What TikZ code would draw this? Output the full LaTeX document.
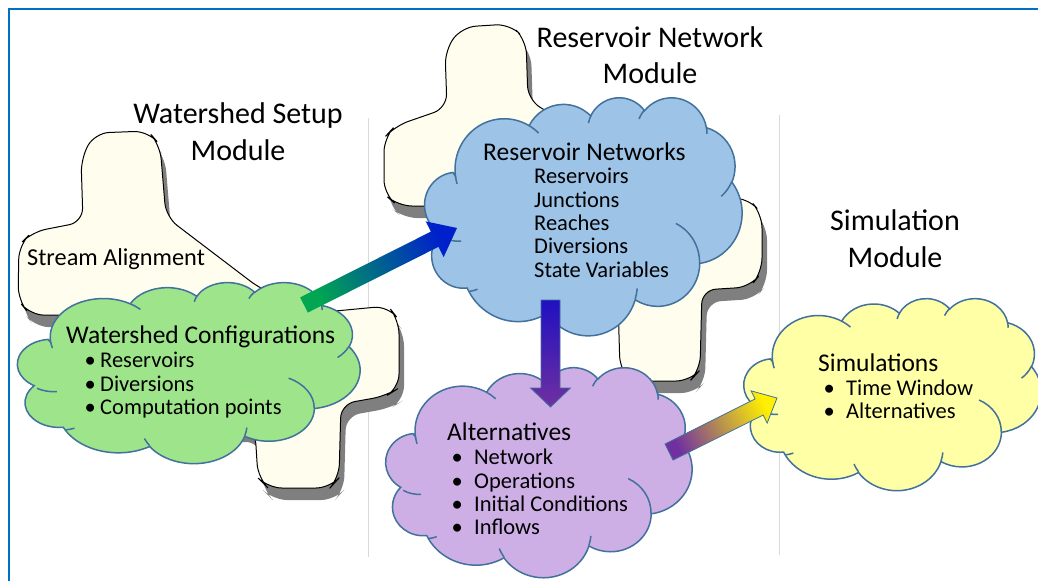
\documentclass[tikz,border=0pt]{standalone}
\usepackage{fontspec}
\setmainfont{Carlito}
\usetikzlibrary{calc}
\definecolor{frameblue}{RGB}{0,112,192}
\definecolor{sepgray}{RGB}{217,217,217}
\definecolor{cream}{RGB}{255,254,238}
\definecolor{shadowgray}{RGB}{127,127,127}
\definecolor{cloudline}{RGB}{65,113,156}
\definecolor{cgreen}{RGB}{158,228,138}
\definecolor{cblue}{RGB}{157,195,230}
\definecolor{cpurple}{RGB}{205,175,230}
\definecolor{cyellow}{RGB}{255,255,166}
\definecolor{agreen}{RGB}{0,166,81}
\definecolor{ablue}{RGB}{0,32,204}
\definecolor{ablue2}{RGB}{32,16,192}
\definecolor{apurple}{RGB}{112,48,160}
\definecolor{ayellow}{RGB}{255,240,0}
% ---------- PowerPoint-like cloud ----------
\newcommand\cldmove[2]{%
 \pgfmathsetmacro\cldpx{\cldX+#1*\cldsx}%
 \pgfmathsetmacro\cldpy{-(\cldY+#2*\cldsy)}%
 \pgfpathmoveto{\pgfpoint{\cldpx pt}{\cldpy pt}}}
\newcommand\cldarc[4]{%
 \pgfmathsetmacro\cldpa{atan2(#1*sin(#3),#2*cos(#3))}%
 \pgfmathsetmacro\cldpb{atan2(#1*sin(#3+#4),#2*cos(#3+#4))}%
 \pgfmathsetmacro\cldd{mod(\cldpb-(\cldpa)+720,360)}%
 \pgfmathsetmacro\cldsa{-1*(\cldpa)}%
 \pgfmathsetmacro\cldea{-1*(\cldpa)-\cldd}%
 \pgfmathsetmacro\cldrx{#1*\cldsx}%
 \pgfmathsetmacro\cldry{#2*\cldsy}%
 \pgfpatharc{\cldsa}{\cldea}{\cldrx pt and \cldry pt}}
\newcommand\pcloud[6]{%
 \begin{pgfscope}
 \def\cldX{#1}\def\cldY{#2}%
 \pgfmathsetmacro\cldsx{#3/432}\pgfmathsetmacro\cldsy{#4/432}%
 \pgfsetfillcolor{#5}\pgfsetstrokecolor{#6}\pgfsetlinewidth{1.5pt}%
 \cldmove{39.00}{143.70}%
 \cldarc{67.53}{91.90}{-190.4875}{123.7805}%
 \cldarc{53.33}{72.67}{-144.1024}{89.9452}%
 \cldarc{43.65}{59.45}{-145.8079}{99.7230}%
 \cldarc{48.57}{65.95}{-130.9861}{117.2417}%
 \cldarc{53.33}{72.73}{-78.7089}{109.0269}%
 \cldarc{67.75}{92.20}{-46.2673}{130.2690}%
 \cldarc{57.85}{78.67}{0.6250}{114.0333}%
 \cldarc{67.52}{92.15}{22.4516}{115.1726}%
 \cldarc{77.20}{105.43}{66.2426}{81.3750}%
 \cldarc{43.60}{59.18}{-274.9421}{146.7356}%
 \cldarc{43.45}{59.45}{-246.8285}{152.5189}%
 \pgfpathclose
 \pgfusepath{fill,stroke}%
 \cldmove{46.93}{261.77}\cldarc{43.45}{59.45}{86.7420}{26.4295}%
 \cldmove{69.28}{348.99}\cldarc{43.60}{59.18}{73.6105}{11.4475}%
 \cldmove{164.78}{390.90}\cldarc{67.52}{92.15}{137.6242}{14.0811}%
 \cldmove{288.27}{347.51}\cldarc{67.52}{92.15}{6.4533}{15.9984}%
 \cldmove{341.29}{229.54}\cldarc{57.85}{78.67}{-70.2924}{70.9174}%
 \cldmove{417.98}{153.54}\cldarc{53.33}{72.73}{30.3180}{27.7515}%
 \cldmove{383.24}{54.26}\cldarc{48.57}{65.95}{-13.7443}{14.8589}%
 \cldmove{290.78}{39.52}\cldarc{48.57}{65.95}{-149.1815}{18.1954}%
 \cldmove{221.41}{47.20}\cldarc{43.65}{59.45}{-163.4943}{17.6864}%
 \cldmove{140.00}{51.92}\cldarc{67.53}{91.90}{-66.7070}{12.3194}%
 \cldmove{41.27}{157.89}\cldarc{67.53}{91.90}{157.6544}{11.8582}%
 \pgfusepath{stroke}%
 \end{pgfscope}}
% ---------- block arrow between two named coordinates ----------
\newcommand\blockarrow[6]{%
 \coordinate (#1-#2-b) at ($(#2)!#5pt!(#1)$);
 \shadedraw[#6] ($(#1)!#3pt!90:(#2)$) -- ($(#1-#2-b)!#3pt!-90:(#1)$)
   -- ($(#1-#2-b)!#4pt!-90:(#1)$) -- (#2) -- ($(#1-#2-b)!#4pt!90:(#1)$)
   -- ($(#1-#2-b)!#3pt!90:(#1)$) -- ($(#1)!#3pt!-90:(#2)$) -- cycle;}
\tikzset{
 title/.style={anchor=base, inner sep=0pt, font=\fontsize{30}{36}\selectfont},
 head/.style={anchor=base west, inner sep=0pt, font=\fontsize{25.5}{30}\selectfont},
 item/.style={anchor=base west, inner sep=0pt, font=\fontsize{22.5}{27}\selectfont},
 creamshape/.style={fill=cream, draw=black, line width=1pt, rounded corners=14pt},
 shadowshape/.style={fill=shadowgray, rounded corners=14pt},
 separator/.style={draw=sepgray, line width=1pt},
 arrowline/.style={draw=cloudline, line width=0.8pt},
}
\newcommand\bul[1]{\makebox[#1][l]{\textbullet}}
\begin{document}
\begin{tikzpicture}[x=1pt, y=-1pt]
\useasboundingbox (0,0) rectangle (1038,581);
% frame and separators
\draw[frameblue, line width=2.5pt] (9,581) -- (9,9) -- (1038,9);
\draw[separator] (368,118) -- (368,557);
\draw[separator] (779,115) -- (779,555);
% cream shapes with shadows
\def\shapeA{(83,222) -- (81,158) -- (95,133) -- (148,131) -- (160,145) -- (166,217) -- (262,290) -- (325,312) -- (388,306) -- (399,320) -- (399,388) -- (386,396) -- (341,404) -- (339,478) -- (330,488) -- (268,488) -- (258,478) -- (255,430) -- (150,430) -- (150,316) -- (30,315) -- (18,300) -- (19,245) -- (32,232) -- cycle}
\def\shapeB{(447,108) -- (445,50) -- (462,27) -- (510,24) -- (526,40) -- (528,100) -- (690,198) -- (748,198) -- (762,214) -- (762,272) -- (750,287) -- (702,290) -- (700,370) -- (690,381) -- (630,381) -- (620,370) -- (618,300) -- (470,270) -- (445,206) -- (398,206) -- (384,194) -- (384,138) -- (395,126) -- cycle}
\path[shadowshape, shift={(5,12)}] \shapeA;
\path[creamshape] \shapeA;
\path[shadowshape, shift={(5,12)}] \shapeB;
\path[creamshape] \shapeB;
% clouds
\pcloud{20}{282}{340}{181}{cgreen}{cloudline}
\pcloud{427}{97}{315}{238}{cblue}{cloudline}
\pcloud{388}{367}{304}{210}{cpurple}{cloudline}
\pcloud{746}{298}{295}{192}{cyellow}{cloudline}
\coordinate (gcloud) at (190,372);
\coordinate (bcloud) at (584,216);
\coordinate (pcloud) at (540,472);
\coordinate (ycloud) at (893,394);
% arrows
\coordinate (a1s) at (304,305);
\coordinate (a1e) at (457,228);
\coordinate (a2s) at (550.5,300);
\coordinate (a2e) at (550.5,407);
\coordinate (a3s) at (669,452);
\coordinate (a3e) at (777,398);
\blockarrow{a1s}{a1e}{8.5}{20}{25}{bottom color=agreen, top color=ablue, shading angle=-63.3, draw=none}
\blockarrow{a2s}{a2e}{9.5}{20}{19}{top color=ablue2, bottom color=apurple, arrowline}
\blockarrow{a3s}{a3e}{9}{18}{20}{bottom color=apurple, top color=ayellow, shading angle=-63.4, arrowline}
% titles
\node[title] (t1a) at (238,123) {Watershed Setup};
\node[title] (t1b) at (238,160) {Module};
\node[title] (t2a) at (650,47) {Reservoir Network};
\node[title] (t2b) at (650,83) {Module};
\node[title] (t3a) at (895,230) {Simulation};
\node[title] (t3b) at (895,267) {Module};
\node[item, font=\fontsize{24.3}{28}\selectfont] (sa) at (27,265) {Stream Alignment};
% green cloud text
\node[head] (g0) at (66,343) {Watershed Configurations};
\node[item] (g1) at (84.5,367) {\bul{15.5pt}Reservoirs};
\node[item] (g2) at (84.5,391) {\bul{15.5pt}Diversions};
\node[item] (g3) at (84.5,414) {\bul{15.5pt}Computation points};
% blue cloud text
\node[head] (b0) at (483,160) {Reservoir Networks};
\node[item] (b1) at (534,183) {Reservoirs};
\node[item] (b2) at (534,207) {Junctions};
\node[item] (b3) at (534,230) {Reaches};
\node[item] (b4) at (534,253) {Diversions};
\node[item] (b5) at (534,277) {State Variables};
% purple cloud text
\node[head] (p0) at (447,440) {Alternatives};
\node[item] (p1) at (451.5,464) {\bul{22.5pt}Network};
\node[item] (p2) at (451.5,488) {\bul{22.5pt}Operations};
\node[item] (p3) at (451.5,511) {\bul{22.5pt}Initial Conditions};
\node[item] (p4) at (451.5,534) {\bul{22.5pt}Inflows};
% yellow cloud text
\node[head] (y0) at (818,371) {Simulations};
\node[item] (y1) at (823.5,395) {\bul{22.5pt}Time Window};
\node[item] (y2) at (823.5,418) {\bul{22.5pt}Alternatives};
\end{tikzpicture}
\end{document}
